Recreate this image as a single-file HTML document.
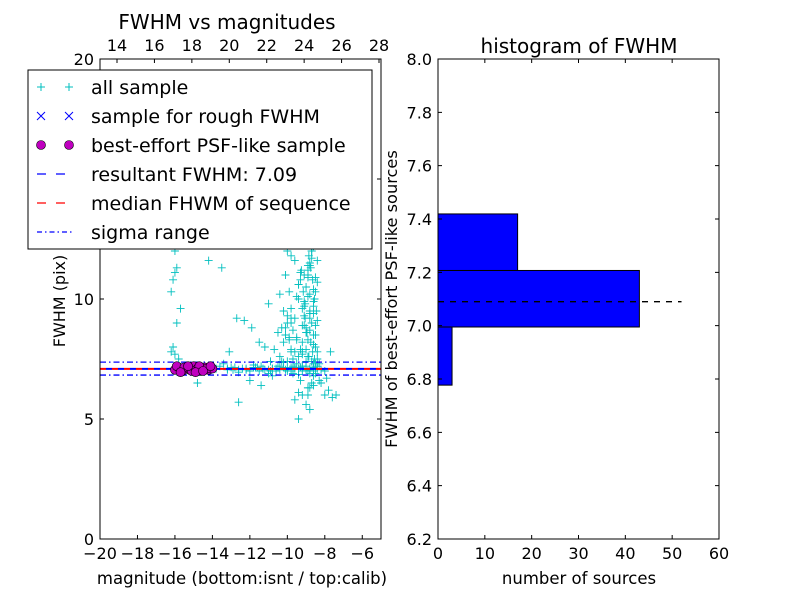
<!DOCTYPE html>
<html><head><meta charset="utf-8"><style>
body{margin:0;background:#fff;}
svg{display:block;font-family:"DejaVu Sans","Liberation Sans",sans-serif;}
</style></head><body>
<svg id="c" width="800" height="600" viewBox="0 0 800 600"></svg>
<script>
// scatter data: all sample (magnitude, fwhm)
const allMag = [-16.2,-16.1,-16.0,-15.9,-16.1,-16.0,-15.8,-16.2,-15.9,-16.0,-15.7,-14.2,-13.5,-12.7,-12.3,-11.9,-11.5,-11.2,-11.0,-10.8,-10.7,-10.5,-10.4,-10.3,-10.2,-10.1,-10.0,-9.9,-9.8,-9.7,-9.6,-9.5,-9.4,-9.3,-9.2,-9.1,-9.0,-8.9,-8.8,-8.7,-8.6,-8.5,-8.4,-8.3,-8.2,-8.0,-7.8,-7.6,-7.4,
 -10.4,-10.2,-10.0,-9.8,-9.6,-9.4,-9.2,-9.0,-8.8,-8.6,-8.4,-9.9,-9.5,-9.1,-8.7,-9.7,-9.3,-8.9,-8.5,-9.6,-9.2,-8.8,-9.0,-8.6,-9.4,-9.8,-10.1,-8.9,-9.1,-8.7,-8.5,-9.3,-9.0,-8.8,-8.6,-9.5,-9.2,-8.9,-8.4,-9.0,-8.7,
 -15.6,-15.2,-14.8,-14.4,-14.0,-13.6,-13.2,-12.8,-12.4,-12.0,-11.6,-11.2,-10.8,-10.4,-10.0,-9.6,-9.2,-8.8,-8.4,-8.0,-15.4,-14.6,-13.8,-13.0,-12.2,-11.4,-10.6,-9.8,-9.0,-8.2,-13.4,-12.6,-11.8,-11.0,-10.2,-9.4,-8.6,
 -9.5,-9.1,-8.9,-8.7,-9.3,-8.5,-8.8,-9.0,-8.6,-9.2,-8.4,-8.3,-7.9,-7.7,-9.8,-10.3,-11.4,-12.6,-13.1,-14.8,-12.0,-10.9,-9.7,-8.9,-9.4,
 -9.0,-8.9,-8.8,-8.7,-8.6,-8.5,-8.45,-8.55,-8.65,-8.75,-8.85,-8.95,-9.05,-9.15,-9.25,-9.35,-8.5,-8.6,-8.7,-8.8,-8.9,-9.0,-9.1,-9.2,-8.55,-8.65,-8.75,-8.85,-8.95,-9.05,-8.6,-8.7,-8.8,-8.9,-8.5,-8.6,-8.7,-8.8,-8.9,-9.0,
 -9.6,-9.7,-9.8,-9.9,-10.0,-10.1,-9.5,-9.4,-9.3,-9.2,-9.1,-9.6,-9.7,-9.8,-9.5,-9.4,-9.3,-9.9,-10.0,-9.2,
 -8.6,-8.7,-8.8,-8.9,-8.5,-8.6,-8.7,-8.8,-8.9,-8.4,-8.5,-8.6,-8.7,-8.8,-8.5,-8.6,-8.7,-8.8,-8.5,-8.6,
 -11.0,-10.6,-10.2,-9.8,-9.4,-9.0,-8.6,-11.3,-10.9,-10.5,-10.1,-9.7,-9.3,-8.9,-8.5,-12.6,-12.2,-11.8,-11.5,-10.8,-10.4,-10.0,-9.6,-9.2,-8.8,-8.4,-13.2,-12.9,-11.7];
const allFwhm = [10.3,10.8,11.1,9.0,8.0,7.7,7.5,7.8,11.3,12.0,9.6,11.6,11.3,9.2,9.1,8.8,8.2,8.0,9.8,6.8,7.9,8.6,10.2,8.8,9.5,11.0,12.0,10.3,9.0,13.0,11.6,8.4,10.0,12.4,9.6,11.0,13.4,10.9,9.2,12.0,10.4,8.5,7.8,6.6,6.5,6.0,6.2,5.9,6.0,
 7.6,8.2,9.3,11.8,12.8,10.6,8.9,7.9,8.7,9.9,10.7,12.6,13.8,14.5,12.1,7.2,6.6,6.3,6.9,5.8,6.0,5.4,5.6,6.4,5.0,7.8,8.8,11.4,9.7,13.5,8.0,15.5,17.0,15.0,14.2,16.5,12.9,10.1,9.1,7.4,11.7,
 7.15,7.1,7.05,7.15,7.1,7.2,7.05,7.15,7.1,7.0,7.15,7.05,7.1,7.2,7.0,7.1,7.2,7.05,7.1,7.0,7.2,7.0,7.1,7.15,7.05,7.2,7.0,7.15,7.1,7.05,7.3,6.95,7.25,6.9,7.35,6.85,7.3,
 8.3,9.9,11.2,12.8,10.8,10.3,9.4,8.6,8.1,7.7,7.5,7.3,6.7,7.8,9.2,7.4,6.4,5.7,7.8,6.5,6.6,7.4,6.9,6.3,6.1,
 10.5,11.0,11.5,12.0,12.5,13.0,9.5,10.0,10.8,11.3,11.8,12.3,9.8,10.3,11.2,12.7,8.0,8.5,9.0,9.5,8.3,8.8,9.3,7.8,7.5,7.8,8.2,7.6,8.6,9.2,6.8,6.5,6.3,6.0,7.3,7.0,7.4,6.9,7.6,7.2,
 9.2,8.7,9.6,8.4,9.0,8.5,10.1,10.6,11.1,8.2,8.9,7.8,7.5,7.9,7.3,7.6,7.9,8.3,7.4,7.2,
 13.5,14.0,13.8,14.8,12.8,15.2,15.8,14.5,16.2,11.6,10.9,12.2,13.2,10.2,14.2,9.7,16.8,11.4,8.9,9.4,
 7.05,7.1,7.15,7.0,7.1,7.05,7.15,7.1,7.0,7.2,7.05,7.1,7.15,7.0,7.2,7.05,7.1,7.15,7.0,7.1,7.05,7.1,7.15,7.0,7.1,7.2,7.1,7.05,7.15];
// best-effort PSF-like sample
const bestMag = [-16.0,-15.8,-15.6,-15.4,-15.2,-15.0,-14.8,-14.6,-14.4,-14.2,-14.0,-15.9,-15.5,-15.1,-14.7,-14.3,-15.7,-15.3,-14.9,-14.5,-14.1];
const bestFwhm = [7.05,7.15,7.0,7.1,7.05,7.2,7.1,7.0,7.15,7.05,7.1,7.2,7.15,7.0,7.2,7.1,6.95,7.2,6.95,7.0,7.2];
const resultFwhm = 7.09;
const sigmaLo = 6.83, sigmaHi = 7.37;
// histogram
const binEdges = [6.777, 6.995, 7.207, 7.419];
const binCounts = [3, 43, 17];
const xTicksBottom = [-20,-18,-16,-14,-12,-10,-8,-6];
const xTicksTop = [14,16,18,20,22,24,26,28];
const yTicksL = [0,5,10,15,20];
const hxTicks = [0,10,20,30,40,50,60];
const hyTicks = [6.2,6.4,6.6,6.8,7.0,7.2,7.4,7.6,7.8,8.0];

const NS="http://www.w3.org/2000/svg", svg=document.getElementById('c');
function el(t,a,p){const e=document.createElementNS(NS,t);for(const k in a)e.setAttribute(k,a[k]);(p||svg).appendChild(e);return e;}
function txt(s,a,p){const e=el('text',a,p);e.textContent=s;return e;}

// left axes
const L={x0:100,x1:381,y0:59,y1:539};
const lx=v=>L.x0+(v+20)/15*(L.x1-L.x0);
const ltx=v=>117+(v-14)/14*(379-117);
const ly=v=>L.y1-v/20*(L.y1-L.y0);
const gL=el('g',{});

const clip=el('clipPath',{id:'cl'},gL);el('rect',{x:L.x0,y:L.y0,width:L.x1-L.x0,height:L.y1-L.y0},clip);
const pts=el('g',{'clip-path':'url(#cl)'},gL);
for(let i=0;i<allMag.length;i++){
 const x=lx(allMag[i]),y=ly(allFwhm[i]);
 const p=el('path',{d:`M${x-4} ${y}H${x+4}M${x} ${y-4}V${y+4}`,stroke:'#00bfbf','stroke-width':0.9},pts);
 
 
}
el('line',{x1:L.x0,x2:L.x1,y1:ly(resultFwhm),y2:ly(resultFwhm),stroke:'red','stroke-width':2,'stroke-dasharray':'6 6'},pts);
el('line',{x1:L.x0+6,x2:L.x1,y1:ly(resultFwhm),y2:ly(resultFwhm),stroke:'blue','stroke-width':2,'stroke-dasharray':'6 6'},pts);
for(const s of [sigmaLo,sigmaHi]){
 const ln=el('line',{x1:L.x0,x2:L.x1,y1:ly(s),y2:ly(s),stroke:'blue','stroke-width':1.3,'stroke-dasharray':'6 3 1.5 3'},pts);
 
}
for(let i=0;i<bestMag.length;i++){
 const c=el('circle',{cx:lx(bestMag[i]),cy:ly(bestFwhm[i]),r:4.5,fill:'#bf00bf',stroke:'#000','stroke-width':0.6},pts);
 
 
}
el('rect',{x:L.x0,y:L.y0,width:L.x1-L.x0,height:L.y1-L.y0,fill:'none',stroke:'#000'},gL);
for(const t of xTicksBottom){const x=lx(t);el('path',{d:`M${x} ${L.y1}v-4`,stroke:'#000'},gL);txt(t<0?'\u2212'+(-t):t,{x:x,y:559,'font-size':16,'text-anchor':'middle'},gL);}
for(const t of xTicksTop){const x=ltx(t);el('path',{d:`M${x} ${L.y0}v4`,stroke:'#000'},gL);txt(t,{x:x,y:51,'font-size':16,'text-anchor':'middle'},gL);}
for(const t of yTicksL){const y=ly(t);el('path',{d:`M${L.x0} ${y}h4M${L.x1} ${y}h-4`,stroke:'#000'},gL);txt(t,{x:94,y:y+6,'font-size':16,'text-anchor':'end'},gL);}
txt('FWHM vs magnitudes',{x:227,y:29,'font-size':20,'text-anchor':'middle'},gL);
txt('magnitude (bottom:isnt / top:calib)',{x:242,y:584,'font-size':16.5,'text-anchor':'middle'},gL);
txt('FWHM (pix)',{x:65,y:301,'font-size':16,'text-anchor':'middle',transform:'rotate(-90 65 301)'},gL);

// right histogram
const R={x0:438,x1:719,y0:59,y1:539};
const hx=v=>R.x0+v/60*(R.x1-R.x0);
const hy=v=>R.y1-(v-6.2)/1.8*(R.y1-R.y0);
const gR=el('g',{});

for(let i=0;i<binCounts.length;i++){
 const b=el('rect',{x:hx(0),y:hy(binEdges[i+1]),width:hx(binCounts[i])-hx(0),height:hy(binEdges[i])-hy(binEdges[i+1]),fill:'#0000ff',stroke:'#000'},gR);
 
 
}
el('line',{x1:hx(0),x2:hx(52),y1:hy(resultFwhm),y2:hy(resultFwhm),stroke:'#000','stroke-width':1.3,'stroke-dasharray':'6 6'},gR);
el('rect',{x:R.x0,y:R.y0,width:R.x1-R.x0,height:R.y1-R.y0,fill:'none',stroke:'#000'},gR);
for(const t of hxTicks){const x=hx(t);el('path',{d:`M${x} ${R.y1}v-4M${x} ${R.y0}v4`,stroke:'#000'},gR);txt(t,{x:x,y:559,'font-size':16,'text-anchor':'middle'},gR);}
for(const t of hyTicks){const y=hy(t);el('path',{d:`M${R.x0} ${y}h4M${R.x1} ${y}h-4`,stroke:'#000'},gR);txt(t.toFixed(1),{x:432,y:y+6,'font-size':16,'text-anchor':'end'},gR);}
txt('histogram of FWHM',{x:579,y:53,'font-size':20,'text-anchor':'middle'},gR);
txt('number of sources',{x:579,y:584,'font-size':16.5,'text-anchor':'middle'},gR);
txt('FWHM of best-effort PSF-like sources',{x:397,y:299,'font-size':16.2,'text-anchor':'middle',transform:'rotate(-90 397 299)'},gR);

// legend
const lg=el('g',{});

el('rect',{x:28,y:70,width:344,height:179,fill:'#fff',stroke:'#000'},lg);
const labels=['all sample','sample for rough FWHM','best-effort PSF-like sample','resultant FWHM: 7.09','median FHWM of sequence','sigma range'];
labels.forEach((s,i)=>{
 const y=87+i*29;
 const g=el('g',{},lg);
 
 
 if(i===0){for(const x of [41,69])el('path',{d:`M${x-4} ${y}h8M${x} ${y-4}v8`,stroke:'#00bfbf'},g);}
 if(i===1){for(const x of [41,69])el('path',{d:`M${x-4} ${y-4}l8 8M${x+4} ${y-4}l-8 8`,stroke:'blue'},g);}
 if(i===2){for(const x of [41,69])el('circle',{cx:x,cy:y,r:4.5,fill:'#bf00bf',stroke:'#000','stroke-width':0.6},g);}
 if(i===3)el('line',{x1:37,x2:73,y1:y,y2:y,stroke:'blue','stroke-width':1.3,'stroke-dasharray':'9 10'},g);
 if(i===4)el('line',{x1:37,x2:73,y1:y,y2:y,stroke:'red','stroke-width':1.3,'stroke-dasharray':'9 10'},g);
 if(i===5)el('line',{x1:37,x2:73,y1:y,y2:y,stroke:'blue','stroke-width':1.3,'stroke-dasharray':'5 3 1.5 3'},g);
 txt(s,{x:91,y:y+7,'font-size':19},g);
});
</script>
</body></html>
